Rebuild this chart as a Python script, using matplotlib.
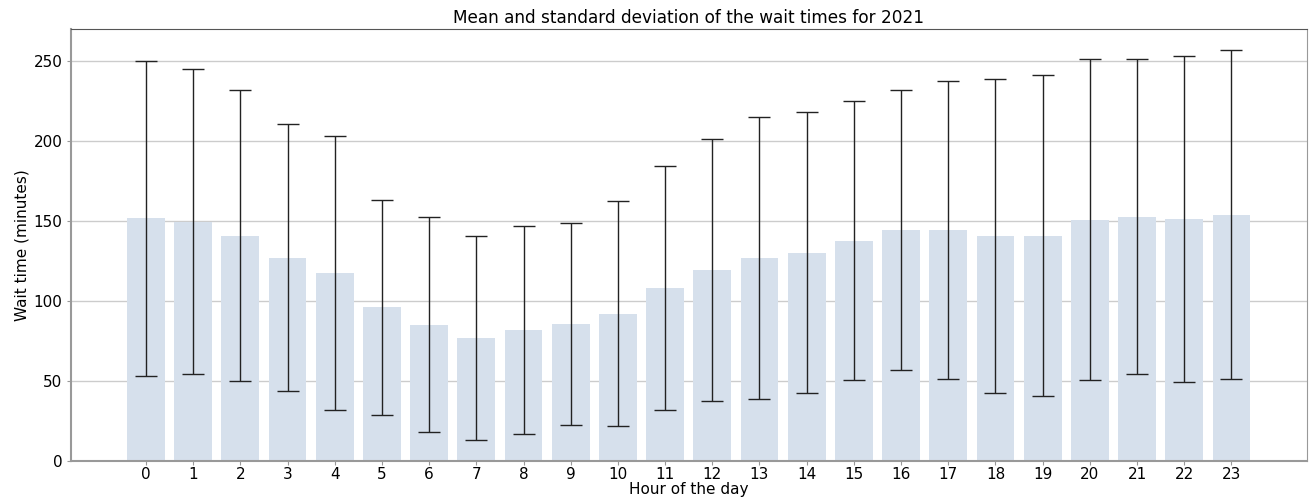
import matplotlib
matplotlib.use('Agg')
import matplotlib.pyplot as plt

plt.rcParams['font.family'] = ['DejaVu Sans']

# Mean and std of wait times per hour of the day (2021)
hours = list(range(24))
mean_wait = [151.7, 149.5, 140.9, 126.9, 117.5, 96.1, 85.3, 76.7, 82.0, 85.6, 92.1, 108.0,
             119.4, 126.8, 130.2, 137.7, 144.4, 144.3, 140.6, 140.9, 150.8, 152.8, 151.1, 154.0]
std_wait = [98.5, 95.3, 91.1, 83.4, 85.8, 67.0, 67.4, 63.8, 64.9, 63.3, 70.2, 76.3,
            82.1, 88.0, 87.9, 87.1, 87.7, 93.3, 97.9, 100.1, 100.2, 98.2, 101.9, 103.0]

fig = plt.figure(figsize=(13.14, 4.99), dpi=100)
ax = fig.add_axes([0.054, 0.076, 0.9406, 0.866])

ax.bar(hours, mean_wait, width=0.8, color='#d6e0ec', zorder=2)
ax.errorbar(hours, mean_wait, yerr=std_wait, fmt='none', ecolor='#222222',
            elinewidth=1, capsize=8, capthick=1, zorder=3)

ax.set_xlim(-1.59, 24.6)
ax.set_ylim(0, 270)
ax.set_xticks(hours)
ax.set_yticks([0, 50, 100, 150, 200, 250])
ax.tick_params(axis='x', length=3, labelsize=11, color='#999999', pad=1)
ax.tick_params(axis='y', length=3, labelsize=11, color='#999999', pad=3)
ax.grid(axis='y', color='#cccccc', linewidth=1, zorder=0)
ax.set_axisbelow(True)

for side in ['left', 'bottom']:
    ax.spines[side].set_color('#999999')
    ax.spines[side].set_linewidth(1.5)
ax.spines['top'].set_color('#555555')
ax.spines['right'].set_color('#999999')

ax.set_title('Mean and standard deviation of the wait times for 2021', fontsize=12.2, pad=4)
ax.set_xlabel('Hour of the day', fontsize=11, labelpad=0)
ax.set_ylabel('Wait time (minutes)', fontsize=11, labelpad=3)

fig.savefig('out.png', dpi=100)
